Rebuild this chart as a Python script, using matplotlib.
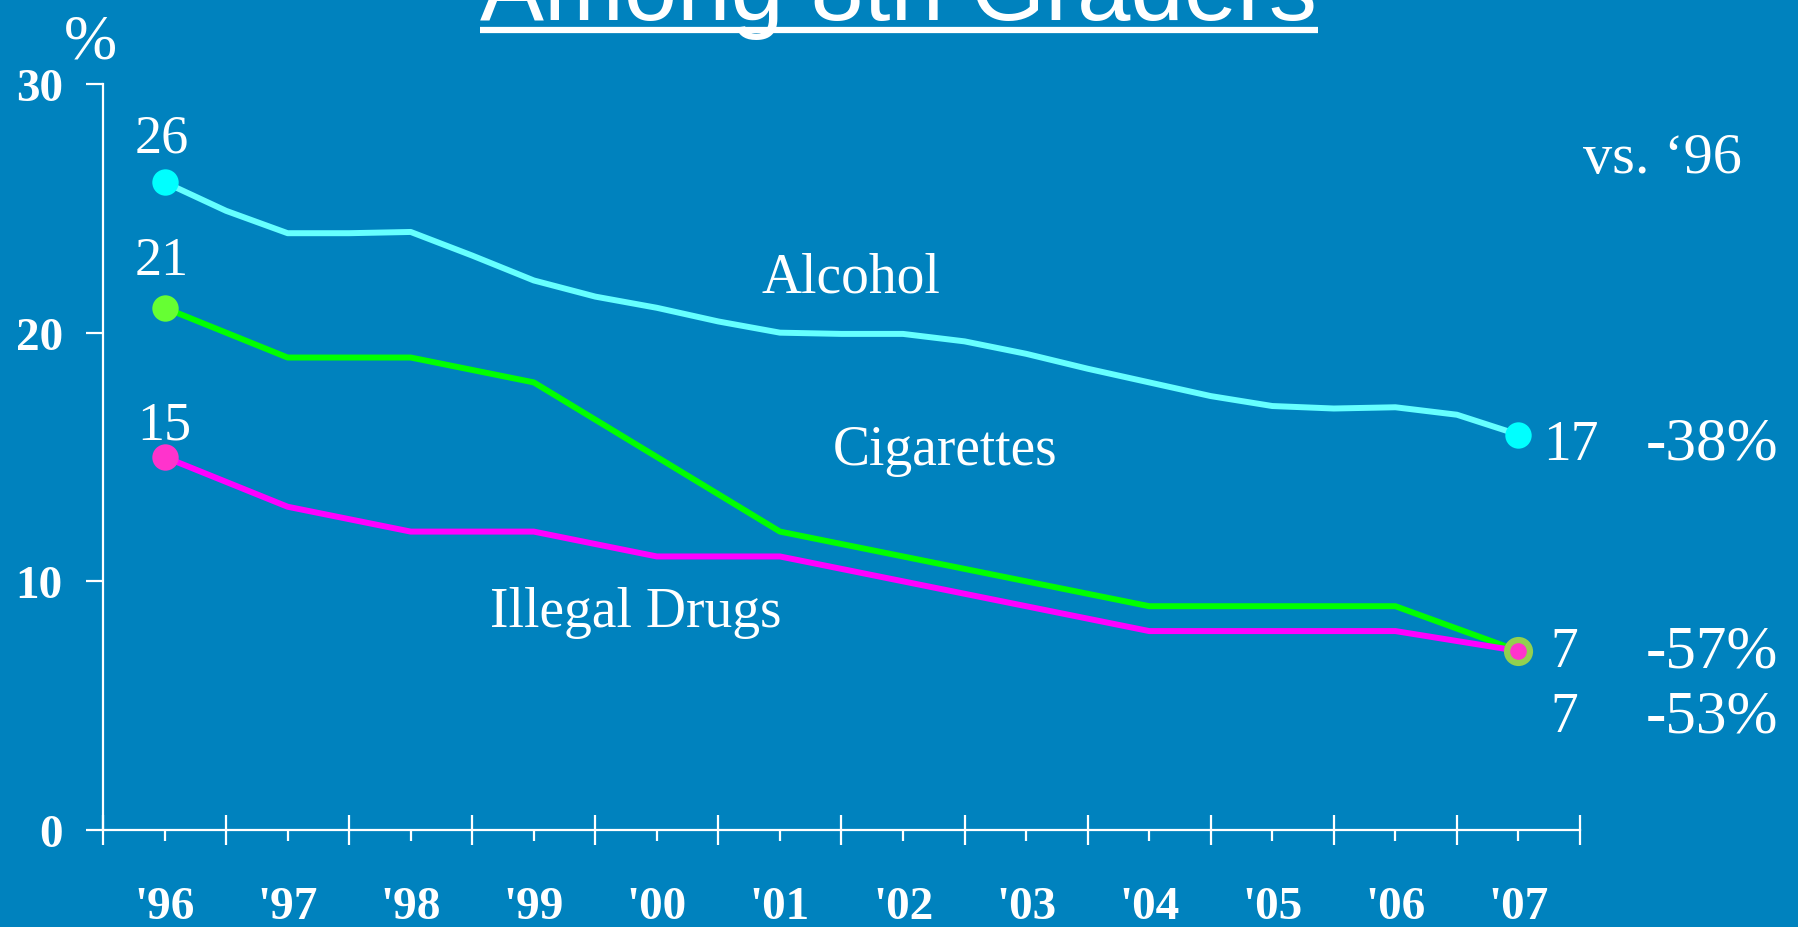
import numpy as np
import matplotlib
matplotlib.use("Agg")
import matplotlib.pyplot as plt
from matplotlib.lines import Line2D

# data
years = ["'96", "'97", "'98", "'99", "'00", "'01", "'02", "'03", "'04", "'05", "'06", "'07"]

# alcohol is drawn as a smooth curve, read at half-year steps
alcohol = [26.05, 24.9, 24.0, 24.0, 24.05, 23.1, 22.1, 21.45, 21.0, 20.45, 20.0, 19.95,
           19.95, 19.65, 19.15, 18.55, 18.0, 17.45, 17.05, 16.95, 17.0, 16.7, 15.9]
cigarettes = [21.0, 19.0, 19.0, 18.0, 15.0, 12.0, 11.0, 10.0, 9.0, 9.0, 9.0, 7.2]
drugs = [15.0, 13.0, 12.0, 12.0, 11.0, 11.0, 10.0, 9.0, 8.0, 8.0, 8.0, 7.2]

start_labels = ["26", "21", "15"]
end_values = ["17", "7", "7"]
changes = ["-38%", "-57%", "-53%"]

BG = "#0082BE"
SERIF = "Liberation Serif"


def main():
    fig = plt.figure(figsize=(17.98, 9.28), dpi=100, facecolor=BG)
    ax = fig.add_axes([103 / 1798, 97 / 928, 1477 / 1798, 746 / 928], facecolor=BG)

    x_years = np.arange(len(years))
    x_alc = np.arange(len(alcohol)) * 0.5

    ax.plot(x_alc, alcohol, color="#66FFFF", lw=4.3, solid_joinstyle="round", zorder=3)
    ax.plot(x_years, cigarettes, color="#00FF00", lw=4.3, zorder=3)
    ax.plot(x_years, drugs, color="#FF00FF", lw=4.3, zorder=3)

    # end point markers
    ax.plot([x_alc[0], x_alc[-1]], [alcohol[0], alcohol[-1]], "o", color="#00FFFF", ms=19, mew=0, zorder=4)
    ax.plot(x_years[0], cigarettes[0], "o", color="#66FF33", ms=19, mew=0, zorder=4)
    ax.plot(x_years[-1], cigarettes[-1], "o", color="#92D050", ms=21, mew=0, zorder=4)
    ax.plot(x_years[0], drugs[0], "o", color="#FF33CC", ms=19, mew=0, zorder=5)
    ax.plot(x_years[-1], drugs[-1], "o", color="#FF33CC", ms=12, mew=0, zorder=5)

    ax.set_xlim(-0.5, 11.5)
    ax.set_ylim(0, 30)

    for side in ["top", "right"]:
        ax.spines[side].set_visible(False)
    for side in ["left", "bottom"]:
        ax.spines[side].set_color("white")
        ax.spines[side].set_linewidth(1.6)

    ax.set_xticks(np.arange(-0.5, 12, 1))
    ax.set_xticklabels([])
    ax.set_xticks(x_years, minor=True)
    ax.set_xticklabels(years, minor=True)
    ax.tick_params(axis="x", which="major", direction="inout", length=22, width=1.6, color="white")
    ax.tick_params(axis="x", which="minor", direction="out", length=8, width=1.6, color="white",
                   pad=32, labelsize=34, labelcolor="white")
    ax.set_yticks([0, 10, 20, 30])
    ax.tick_params(axis="y", direction="out", length=12, width=1.6, color="white",
                   pad=17, labelsize=34, labelcolor="white")
    for lbl in ax.get_xticklabels(minor=True) + ax.get_yticklabels():
        lbl.set_fontfamily(SERIF)
        lbl.set_fontweight("bold")

    txt = dict(color="white", family=SERIF, va="baseline")
    ax.text(-0.6, 31.08, "%", ha="center", fontsize=46, **txt)

    # start values
    ax.text(-0.02, 27.3, start_labels[0], ha="center", fontsize=39, **txt)
    ax.text(-0.02, 22.35, start_labels[1], ha="center", fontsize=39, **txt)
    ax.text(0.0, 15.75, start_labels[2], ha="center", fontsize=39, **txt)

    # end values and change vs '96
    ends_y = [14.92, 6.59, 3.98]
    for val, chg, y in zip(end_values, changes, ends_y):
        x0 = 11.2 if len(val) == 2 else 11.26
        ax.text(x0, y, val, ha="left", fontsize=40, **txt)
        ax.text(12.57, y, chg, ha="center", fontsize=44, **txt)
    ax.text(12.17, 26.46, "vs. \u201896", ha="center", fontsize=42, **txt)

    # series names
    ax.text(5.58, 21.67, "Alcohol", ha="center", fontsize=40, **txt)
    ax.text(6.34, 14.72, "Cigarettes", ha="center", fontsize=40, **txt)
    ax.text(3.83, 8.2, "Illegal Drugs", ha="center", fontsize=40, **txt)

    # title, cut off by the top edge, underlined
    title = fig.text(0.5, 1 - 20 / 928, "Among 8th Graders", ha="center", va="baseline",
                     color="white", family="Liberation Sans", fontsize=69)
    fig.canvas.draw()
    bb = title.get_window_extent()
    y_ul = 1 - 31 / 928
    fig.add_artist(Line2D([bb.x0 / 1798, bb.x1 / 1798], [y_ul, y_ul], transform=fig.transFigure,
                          color="white", lw=4.5, solid_capstyle="butt"))

    fig.savefig("out.png", dpi=100, facecolor=BG)
    plt.close(fig)


if __name__ == "__main__":
    main()
